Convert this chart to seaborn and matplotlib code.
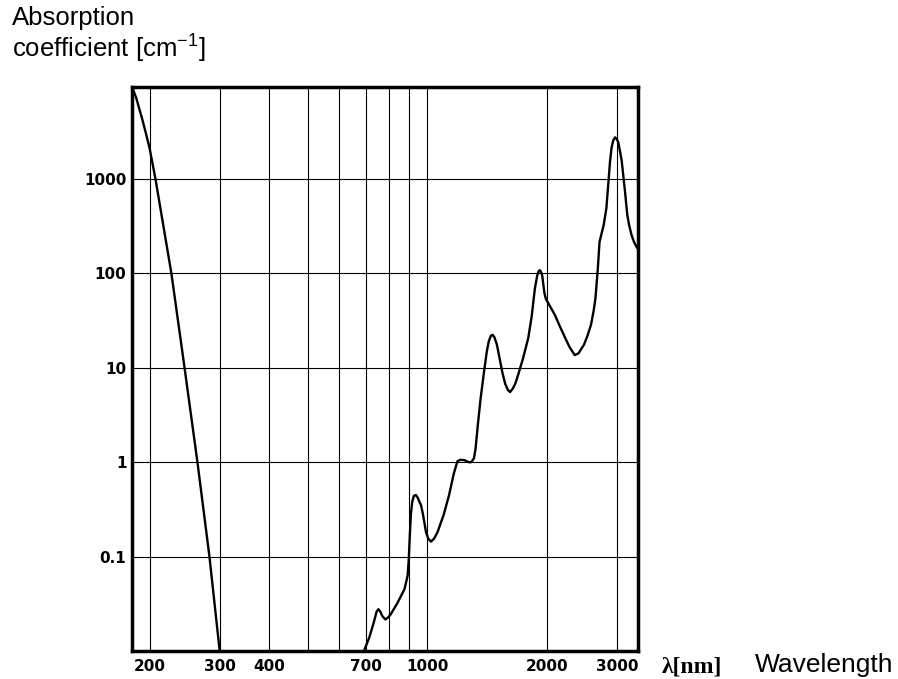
import numpy as np
import pandas as pd
import matplotlib
matplotlib.use("Agg")
import matplotlib.pyplot as plt
import seaborn as sns

# UV absorption edge (wavelength nm, absorption coefficient cm^-1)
uv_wavelength = [180, 185, 192, 196, 200, 207, 227, 245, 264, 283, 300]
uv_alpha = [9800, 7300, 4200, 3000, 2130, 1000, 100, 10, 1, 0.1, 0.0104]

# IR overtone bands
ir_wavelength = [695, 714, 733, 745, 753, 762, 770, 784, 795, 809,
                 840, 876, 892, 898, 903, 909, 916, 925, 936, 946,
                 955, 964, 975, 992, 1005, 1021, 1040, 1061, 1100, 1134,
                 1165, 1190, 1210, 1240, 1270, 1290, 1310, 1322, 1340, 1360,
                 1386, 1410, 1427, 1445, 1460, 1475, 1496, 1520, 1545, 1570,
                 1595, 1615, 1640, 1665, 1694, 1740, 1794, 1830, 1864, 1890,
                 1905, 1918, 1930, 1945, 1955, 1970, 1986, 2040, 2094, 2150,
                 2223, 2280, 2349, 2400, 2479, 2530, 2580, 2620, 2647, 2684,
                 2711, 2777, 2821, 2860, 2880, 2907, 2935, 2965, 2995, 3023,
                 3050, 3083, 3110, 3142, 3184, 3220, 3265, 3310, 3360, 3390]
ir_alpha = [0.0104, 0.0138, 0.020, 0.026, 0.0277, 0.026, 0.0235, 0.0216, 0.0225, 0.0245,
            0.032, 0.0452, 0.0627, 0.095, 0.16, 0.28, 0.38, 0.44, 0.448, 0.42,
            0.38, 0.35, 0.28, 0.182, 0.155, 0.144, 0.155, 0.182, 0.28, 0.448,
            0.75, 1.02, 1.06, 1.05, 1.0, 1.0, 1.1, 1.39, 2.5, 4.55,
            8.55, 14.5, 19.0, 21.8, 22.3, 21.0, 17.6, 12.5, 8.8, 6.75,
            5.8, 5.53, 6.0, 6.8, 8.55, 12.5, 20.6, 35, 68.5, 95,
            105, 108, 104, 95, 80, 62, 53.8, 44, 36.1, 28,
            20.6, 16.5, 13.6, 14.2, 17.6, 22, 28.4, 40, 53.8, 111,
            215, 324, 489, 1025, 1500, 2150, 2550, 2750, 2650, 2430,
            2000, 1550, 1100, 738, 415, 320, 253, 215, 190, 181]

x_ticks = [200, 300, 400, 700, 1000, 2000, 3000]
x_minor = [500, 600, 800, 900]
y_ticks = [0.1, 1, 10, 100, 1000]
y_labels = ["0.1", "1", "10", "100", "1000"]

uv = pd.DataFrame({"wavelength": uv_wavelength, "alpha": uv_alpha})
ir = pd.DataFrame({"wavelength": ir_wavelength, "alpha": ir_alpha})

sns.set_style("white")
plt.rcParams['font.family'] = ['DejaVu Sans']
plt.rcParams['text.color'] = 'black'
plt.rcParams['xtick.color'] = 'black'
plt.rcParams['ytick.color'] = 'black'

fig = plt.figure(figsize=(8.98, 6.79), dpi=100)
ax = fig.add_axes([132 / 898, 1 - 651 / 679, 506 / 898, 564 / 679])

sns.lineplot(data=uv, x="wavelength", y="alpha", ax=ax, color="black",
             linewidth=1.7, sort=False, estimator=None)
sns.lineplot(data=ir, x="wavelength", y="alpha", ax=ax, color="black",
             linewidth=1.7, sort=False, estimator=None)

ax.set_xscale("log")
ax.set_yscale("log")
ax.set_xlim(180.7, 3388)
ax.set_ylim(0.01, 9400)

ax.set_xticks(x_ticks)
ax.set_xticklabels([str(t) for t in x_ticks])
ax.set_yticks(y_ticks)
ax.set_yticklabels(y_labels)
ax.minorticks_off()
ax.set_xticks(x_minor, minor=True)

ax.grid(True, which="both", axis="x", color="black", linewidth=0.8)
ax.grid(True, which="major", axis="y", color="black", linewidth=0.8)
ax.tick_params(axis="both", which="both", length=0, labelcolor="black")
ax.tick_params(axis="x", pad=6)
ax.tick_params(axis="y", pad=4)
for lab in ax.get_xticklabels() + ax.get_yticklabels():
    lab.set_fontweight("bold")
    lab.set_fontsize(11)

for s in ax.spines.values():
    s.set_color("black")
    s.set_linewidth(2.5)

ax.set_xlabel("")
ax.set_ylabel("")

fig.text(12 / 898, 1 - 25 / 679, "Absorption", family="Liberation Sans",
         fontsize=18.5, va="baseline", ha="left")
fig.text(12 / 898, 1 - 57 / 679, r"coefficient [cm$^{\mathregular{-1}}$]",
         family="Liberation Sans", fontsize=18.5, va="baseline", ha="left")
fig.text(662 / 898, 1 - 672 / 679, "λ[nm]", family="Liberation Serif",
         fontweight="bold", fontsize=17, va="baseline", ha="left")
fig.text(755 / 898, 1 - 672 / 679, "Wavelength", family="Liberation Sans",
         fontsize=19, va="baseline", ha="left")

fig.savefig("out.png", dpi=100)
